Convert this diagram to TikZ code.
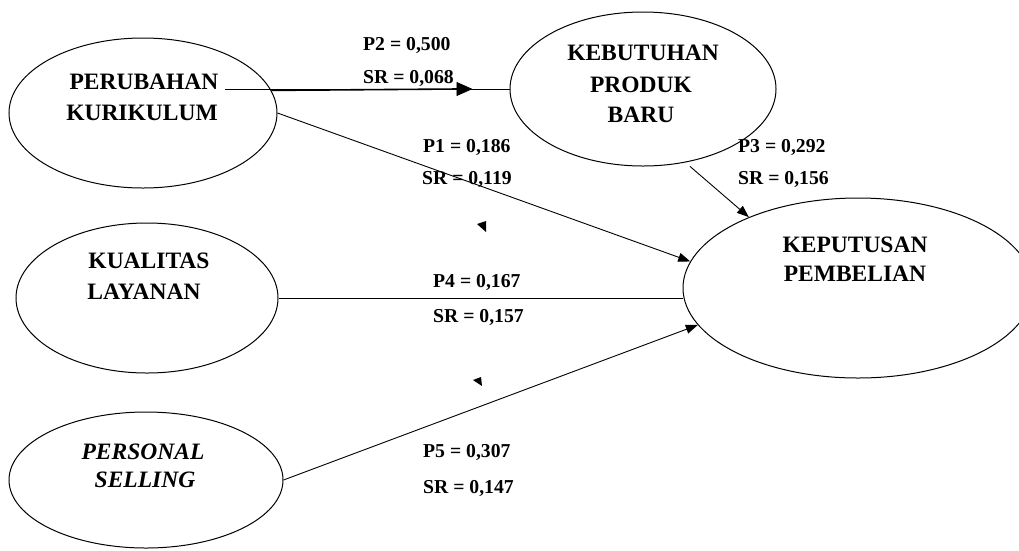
\documentclass[tikz,border=0pt]{standalone}
\usepackage{fontspec}
\setmainfont{Liberation Serif}
\usetikzlibrary{shapes.geometric,arrows.meta,decorations.markings}
\begin{document}
\begin{tikzpicture}[x=1pt,y=-1pt,
  ell/.style={draw, ellipse, line width=1pt, inner sep=0pt},
  nt/.style={font=\fontsize{23.5}{28}\selectfont\bfseries, inner sep=0pt, anchor=base},
  nti/.style={font=\fontsize{23.5}{28}\selectfont\bfseries\itshape, inner sep=0pt, anchor=base},
  lb/.style={font=\fontsize{19.7}{24}\selectfont\bfseries, inner sep=0pt, anchor=base west},
  con/.style={line width=0.9pt},
  arr/.style={con, -{Triangle[length=12pt,width=9pt]}},
  midarr/.style={postaction={decorate}, decoration={markings,
     mark=at position 0.87 with {\arrow{Triangle[length=16pt,width=14pt]}}}}]
\useasboundingbox (0,0) rectangle (1019,550);

% ellipses
\node[ell, minimum width=268pt, minimum height=150pt] (pk) at (143,113) {};
\node[ell, minimum width=262pt, minimum height=150pt] (kl) at (147,298) {};
\node[ell, minimum width=274pt, minimum height=136pt] (ps) at (146,480) {};
\node[ell, minimum width=266pt, minimum height=154pt] (kb) at (643,89) {};
\node[ell, minimum width=350pt, minimum height=180pt] (kp) at (858,288) {};

% node texts
\node[nt] (pk1) at (144,89) {PERUBAHAN};
\node[nt] (pk2) at (142,120) {KURIKULUM};
\node[nt] (kb1) at (643,60) {KEBUTUHAN};
\node[nt] (kb2) at (641,92) {PRODUK};
\node[nt] (kb3) at (641,122) {BARU};
\node[nt] (kl1) at (149,268) {KUALITAS};
\node[nt] (kl2) at (144,299) {LAYANAN};
\node[nti] (ps1) at (143,459) {PERSONAL};
\node[nti] (ps2) at (145,487) {SELLING};
\node[nt] (kp1) at (855,252) {KEPUTUSAN};
\node[nt] (kp2) at (855,281) {PEMBELIAN};

% labels
\node[lb] (l2a) at (363,50) {P2 = 0,500};
\node[lb] (l2b) at (363,83) {SR = 0,068};
\node[lb] (l1a) at (423,152) {P1 = 0,186};
\node[lb] (l1b) at (422,184) {SR = 0,119};
\node[lb] (l3a) at (738,152) {P3 = 0,292};
\node[lb] (l3b) at (738,184) {SR = 0,156};
\node[lb] (l4a) at (433,287) {P4 = 0,167};
\node[lb] (l4b) at (433,322) {SR = 0,157};
\node[lb] (l5a) at (423,457) {P5 = 0,307};
\node[lb] (l5b) at (423,493) {SR = 0,147};

% connectors
\coordinate (p2s) at (225,89);
\coordinate (p2a) at (458,89);
\draw[con, midarr] (p2s) -- (kb.west);
\draw[line width=1.6pt] (pk.10.7) -- (p2a);
\draw[arr] (pk.east) -- (kp.171.5);
\draw[arr, shorten <=6pt] (kb.-60) -- (kp.147);
\draw[con] (kl.east) -- (kl.east -| kp.west);
\draw[arr] (ps.east) -- (kp.193.5);

% stray arrowheads
\fill (477,224) -- (486,221) -- (486,232) -- cycle;
\fill (473,380) -- (481,377) -- (482,386) -- cycle;
\end{tikzpicture}
\end{document}
